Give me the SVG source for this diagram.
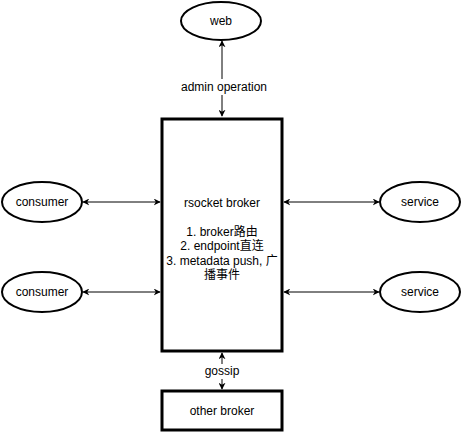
<svg xmlns="http://www.w3.org/2000/svg" width="462" height="433" viewBox="0 0 462 433">
<style>
.node{fill:#fff;stroke:#000;stroke-width:2}
.box{fill:#fff;stroke:#000;stroke-width:3}
.edge{stroke:#000;stroke-width:1;fill:none}
text{font-family:"Liberation Sans",Arial,"Noto Sans CJK SC",sans-serif;font-size:12px;fill:#000;text-anchor:middle}
.lbl{fill:#fff}
</style>
<defs>
<marker id="a" viewBox="0 0 10 10" refX="9" refY="5" markerWidth="7" markerHeight="7" orient="auto-start-reverse" markerUnits="userSpaceOnUse">
<path d="M0,0 L10,5 L0,10 L3,5 Z" fill="#000"/>
</marker>
</defs>
<g id="connectors">
<line class="edge" x1="222" y1="41" x2="222" y2="116" marker-start="url(#a)" marker-end="url(#a)"/>
<rect class="lbl" x="180" y="79" width="88" height="16"/>
<text x="224" y="91">admin operation</text>
<line class="edge" x1="83" y1="202" x2="160" y2="202" marker-start="url(#a)" marker-end="url(#a)"/>
<line class="edge" x1="83" y1="292" x2="160" y2="292" marker-start="url(#a)" marker-end="url(#a)"/>
<line class="edge" x1="284" y1="202" x2="379" y2="202" marker-start="url(#a)" marker-end="url(#a)"/>
<line class="edge" x1="284" y1="292" x2="379" y2="292" marker-start="url(#a)" marker-end="url(#a)"/>
<line class="edge" x1="222" y1="353" x2="222" y2="389" marker-start="url(#a)" marker-end="url(#a)"/>
<rect class="lbl" x="203" y="364" width="38" height="15"/>
<text x="222" y="375">gossip</text>
</g>
<g id="web"><ellipse class="node" cx="221" cy="21" rx="40" ry="19"/><text x="221" y="25">web</text></g>
<g id="broker"><rect class="box" x="162" y="119" width="120" height="232"/>
<text x="222" y="207">rsocket broker</text>
<text x="222" y="236">1. broker路由</text>
<text x="222" y="250">2. endpoint直连</text>
<text x="222" y="265">3. metadata push, 广</text>
<text x="222" y="279">播事件</text>
</g>
<g id="consumer1"><ellipse class="node" cx="42" cy="202" rx="40" ry="20"/><text x="42" y="206">consumer</text></g>
<g id="consumer2"><ellipse class="node" cx="42" cy="292" rx="40" ry="20"/><text x="42" y="296">consumer</text></g>
<g id="service1"><ellipse class="node" cx="420" cy="202" rx="40" ry="20"/><text x="420" y="206">service</text></g>
<g id="service2"><ellipse class="node" cx="420" cy="292" rx="40" ry="20"/><text x="420" y="296">service</text></g>
<g id="other"><rect class="box" x="162" y="391" width="120" height="39"/><text x="222" y="415">other broker</text></g>
</svg>
